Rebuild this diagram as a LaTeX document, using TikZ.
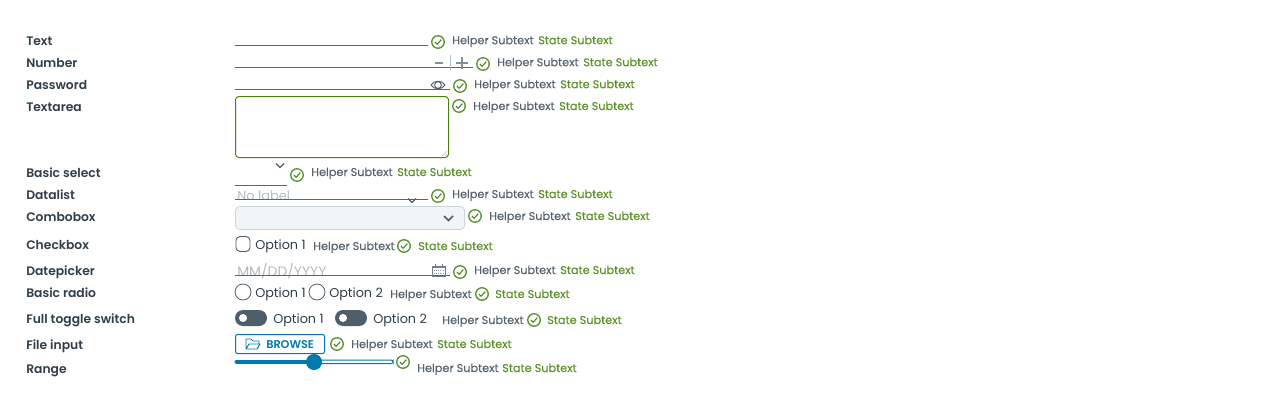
\documentclass[tikz,border=0pt]{standalone}
\usepackage{fontspec}
\setmainfont{Poppins}
\newfontfamily\heavyfont{Poppins SemiBold}
\newfontfamily\midfont[FakeBold=0.1]{Poppins}
\definecolor{okgreen}{HTML}{4A7F12}
\definecolor{okring}{HTML}{5A9030}
\definecolor{statetext}{HTML}{5A9028}
\definecolor{helpertext}{HTML}{56636D}
\definecolor{labeltext}{HTML}{2F3E48}
\definecolor{slate}{HTML}{4F5F6A}
\definecolor{faint}{HTML}{B4BCC2}
\definecolor{comboback}{HTML}{F1F5F8}
\definecolor{comboedge}{HTML}{CBD4DB}
\definecolor{actionblue}{HTML}{0079AD}
\tikzset{
	fieldlabel/.style={anchor=base west,inner sep=0pt,text=labeltext,font=\heavyfont\fontsize{9.25}{11}\selectfont},
	helper/.style={anchor=base west,inner sep=0pt,text=helpertext,font=\midfont\fontsize{8.45}{10}\selectfont},
	statesub/.style={anchor=base west,inner sep=0pt,text=statetext,font=\midfont\fontsize{8.45}{10}\selectfont},
	optiontext/.style={anchor=base west,inner sep=0pt,text=labeltext,font=\fontsize{9.6}{12}\selectfont},
	hinttext/.style={anchor=base west,inner sep=0pt,text=faint,font=\fontsize{9.7}{11}\selectfont},
	okmark/.style={draw=okring,circle,line width=1pt,inner sep=0pt,minimum size=9.4pt,
		path picture={\draw[okgreen,line width=0.8pt] ([shift={(-2.3pt,0pt)}]path picture bounding box.center)
			-- ([shift={(-0.6pt,-1.7pt)}]path picture bounding box.center) -- ([shift={(2.5pt,1.8pt)}]path picture bounding box.center);}},
	fieldline/.style={okgreen,line width=0.75pt},
	chevron/.style={line width=0.9pt,slate},
	radiobox/.style={draw=slate,circle,line width=0.6pt,inner sep=0pt,minimum size=12pt},
	toggletrack/.style={fill=slate,rounded corners=6pt,draw=none,inner sep=0pt,minimum width=24pt,minimum height=12pt},
	toggleknob/.style={fill=white,circle,inner sep=0pt,minimum size=6pt}
}
\begin{document}
\begin{tikzpicture}[x=0.75pt,y=-0.75pt]
	\useasboundingbox (0,0) rectangle (1280,403);
	% row labels
	\node (lbltext) at (26,45.2) [fieldlabel] {Text};
	\node (lblnumber) at (26,67.2) [fieldlabel] {Number};
	\node (lblpassword) at (26,89.2) [fieldlabel] {Password};
	\node (lbltextarea) at (26,111) [fieldlabel] {Textarea};
	\node (lblselect) at (26,177) [fieldlabel] {Basic select};
	\node (lbldatalist) at (26,199) [fieldlabel] {Datalist};
	\node (lblcombo) at (26,221) [fieldlabel] {Combobox};
	\node (lblcheck) at (26,249) [fieldlabel] {Checkbox};
	\node (lbldate) at (26,275) [fieldlabel] {Datepicker};
	\node (lblradio) at (26,297) [fieldlabel] {Basic radio};
	\node (lbltoggle) at (26,323) [fieldlabel] {Full toggle switch};
	\node (lblfile) at (26,349) [fieldlabel] {File input};
	\node (lblrange) at (26,373) [fieldlabel] {Range};
	% field shapes
	\draw[fieldline] (235,45.5) -- (428,45.5);
	\draw[fieldline] (235,67.5) -- (473,67.5);
	\draw[fieldline] (235,89.5) -- (450,89.5);
	\draw[okgreen,line width=0.75pt,rounded corners=2.5pt] (235.5,96.5) rectangle (448.5,157.5);
	\draw[faint,line width=0.5pt] (442,156) -- (447,151) (445,156) -- (447,154);
	\draw[fieldline] (235,185.5) -- (287,185.5);
	\draw[chevron] (276,163.5) -- (280,167.5) -- (284,163.5);
	\node (hintdatalist) at (237,200) [hinttext] {No label};
	\draw[fieldline] (235,199.5) -- (428,199.5);
	\draw[chevron] (408,198.5) -- (412,202.5) -- (416,198.5);
	\draw[fill=comboback,draw=comboedge,line width=0.6pt,rounded corners=3pt] (235.5,206.5) rectangle (464.5,229.5);
	\draw[chevron,line width=1.1pt] (444,216) -- (448.5,220.5) -- (453,216);
	\draw[slate,line width=0.7pt,rounded corners=3pt] (236,236.5) rectangle (250,251.5);
	\node (optcheck) at (255,249) [optiontext] {Option 1};
	\node (hintdate) at (237,276) [hinttext,font=\fontsize{10.4}{11}\selectfont] {MM/DD/YYYY};
	\draw[fieldline] (235,275.5) -- (450,275.5);
	\node (radioa) at (243,292) [radiobox] {};
	\node (optradioa) at (255,297) [optiontext] {Option 1};
	\node (radiob) at (317,292) [radiobox] {};
	\node (optradiob) at (329,297) [optiontext] {Option 2};
	\node (trackone) at (251,318) [toggletrack] {};
	\node (knobone) at (243,318) [toggleknob] {};
	\node (opttoggleone) at (273,323) [optiontext] {Option 1};
	\node (tracktwo) at (351,318) [toggletrack] {};
	\node (knobtwo) at (343,318) [toggleknob] {};
	\node (opttoggletwo) at (373,323) [optiontext] {Option 2};
	% number, password and date icons
	\draw[faint,line width=0.6pt] (450.5,55) -- (450.5,70);
	\draw[slate!70,line width=0.9pt] (435,63) -- (443,63);
	\draw[slate!70,line width=0.9pt] (456,63) -- (468,63) (462,57) -- (462,69);
	\draw[slate,line width=0.7pt] (431,85) .. controls (434,80) and (442,80) .. (445,85) .. controls (442,90) and (434,90) .. (431,85);
	\draw[slate,line width=0.7pt] (438,85) circle (3.4);
	\draw[slate!80,line width=0.6pt] (432,266) rectangle (445,276);
	\draw[slate!80,line width=1.5pt] (432,267) -- (445,267);
	\draw[slate!70,line width=0.9pt,dash pattern=on 0.8pt off 0.8pt] (434,270.5) -- (444,270.5) (434,273.5) -- (444,273.5);
	\draw[slate!80,line width=0.7pt] (435,264) -- (435,266) (442,264) -- (442,266);
	% file button
	\draw[actionblue,line width=0.75pt,rounded corners=1.5pt] (235.5,334.5) rectangle (324.5,353.5);
	\draw[actionblue,line width=0.7pt,line join=round] (246,349) -- (246,339) -- (251,339) -- (253,341) -- (259,341) -- (259,344) (246,349) -- (249,344) -- (260,344) -- (257,349) -- cycle;
	\node (browse) at (266,348) [anchor=base west,inner sep=0pt,text=actionblue,font=\heavyfont\fontsize{8.45}{10}\selectfont] {BROWSE};
	% range
	\draw[actionblue,line width=0.75pt,rounded corners=1.5pt] (314,360) rectangle (393,363.5);
	\draw[actionblue,line width=3pt,line cap=round] (236.5,361.7) -- (314,361.7);
	\node (thumb) at (314,362) [fill=actionblue,circle,inner sep=0pt,minimum size=12pt] {};
	% check marks
	\node (oktext) at (438,42) [okmark] {};
	\node (oknumber) at (483,64) [okmark] {};
	\node (okpassword) at (460,86) [okmark] {};
	\node (oktextarea) at (459,106) [okmark] {};
	\node (okselect) at (297,175) [okmark] {};
	\node (okdatalist) at (438,196) [okmark] {};
	\node (okcombo) at (475,216) [okmark] {};
	\node (okcheck) at (404,246) [okmark] {};
	\node (okdate) at (460,272) [okmark] {};
	\node (okradio) at (482,294) [okmark] {};
	\node (oktoggle) at (534,320) [okmark] {};
	\node (okfile) at (337,344) [okmark] {};
	\node (okrange) at (403,362) [okmark] {};
	% helper and state texts
	\node (helptext) at (452,44.2) [helper] {Helper Subtext};
	\node (statetext) at (538,44.2) [statesub] {State Subtext};
	\node (helpnumber) at (497,66.2) [helper] {Helper Subtext};
	\node (statenumber) at (583,66.2) [statesub] {State Subtext};
	\node (helppassword) at (474,88.2) [helper] {Helper Subtext};
	\node (statepassword) at (560,88.2) [statesub] {State Subtext};
	\node (helptextarea) at (473,110) [helper] {Helper Subtext};
	\node (statetextarea) at (559,110) [statesub] {State Subtext};
	\node (helpselect) at (311,176) [helper] {Helper Subtext};
	\node (stateselect) at (397,176) [statesub] {State Subtext};
	\node (helpdatalist) at (452,198) [helper] {Helper Subtext};
	\node (statedatalist) at (538,198) [statesub] {State Subtext};
	\node (helpcombo) at (489,220) [helper] {Helper Subtext};
	\node (statecombo) at (575,220) [statesub] {State Subtext};
	\node (helpcheck) at (313,250) [helper] {Helper Subtext};
	\node (statecheck) at (418,250) [statesub] {State Subtext};
	\node (helpdate) at (474,274) [helper] {Helper Subtext};
	\node (statedate) at (560,274) [statesub] {State Subtext};
	\node (helpradio) at (390,298) [helper] {Helper Subtext};
	\node (stateradio) at (495,298) [statesub] {State Subtext};
	\node (helptoggle) at (442,324) [helper] {Helper Subtext};
	\node (statetoggle) at (547,324) [statesub] {State Subtext};
	\node (helpfile) at (351,348) [helper] {Helper Subtext};
	\node (statefile) at (437,348) [statesub] {State Subtext};
	\node (helprange) at (417,372) [helper] {Helper Subtext};
	\node (staterange) at (502,372) [statesub] {State Subtext};
\end{tikzpicture}
\end{document}
